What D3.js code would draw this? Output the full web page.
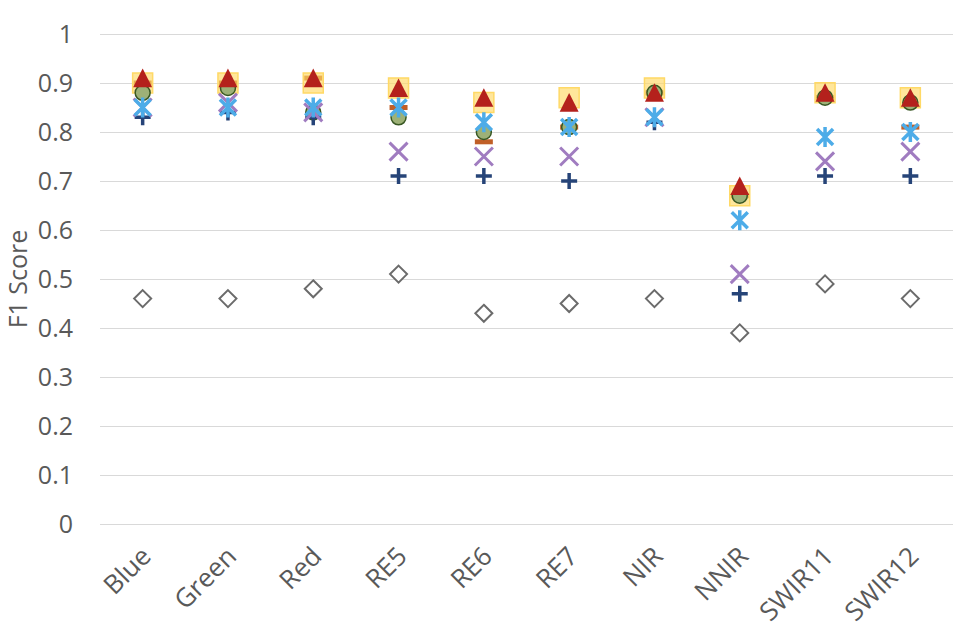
<!DOCTYPE html>
<html lang="en">

<head>
  <title>F1 Score by band</title>
  <script src="https://d3js.org/d3.v7.min.js"></script>
  <style>
    body {
      margin: 0;
      padding: 0;
      background: #fff;
      font-family: "Open Sans", Arial, sans-serif;
      overflow: hidden;
    }

    .grid line {
      stroke: #d9d9d9;
      stroke-width: 1;
    }

    .label {
      fill: #595959;
    }
  </style>
</head>

<body>
  <svg id="chart"></svg>

  <script>
    // Bands on the x axis
    const categories = ["Blue", "Green", "Red", "RE5", "RE6", "RE7", "NIR", "NNIR", "SWIR11", "SWIR12"];
    const yTicks = [0, 0.1, 0.2, 0.3, 0.4, 0.5, 0.6, 0.7, 0.8, 0.9, 1];

    // F1 scores per series
    const diamondSeries = [0.46, 0.46, 0.48, 0.51, 0.43, 0.45, 0.46, 0.39, 0.49, 0.46];
    const dashSeries = [0.90, 0.90, 0.91, 0.85, 0.78, 0.81, 0.88, 0.67, 0.87, 0.81];
    const squareSeries = [0.90, 0.90, 0.90, 0.89, 0.86, 0.87, 0.89, 0.67, 0.88, 0.87];
    const circleSeries = [0.88, 0.89, 0.84, 0.83, 0.80, 0.81, 0.88, 0.67, 0.87, 0.86];
    const triangleSeries = [0.91, 0.91, 0.91, 0.89, 0.87, 0.86, 0.88, 0.69, 0.88, 0.87];
    const plusSeries = [0.83, 0.84, 0.83, 0.71, 0.71, 0.70, 0.82, 0.47, 0.71, 0.71];
    const xSeries = [0.85, 0.86, 0.84, 0.76, 0.75, 0.75, 0.83, 0.51, 0.74, 0.76];
    const asteriskSeries = [0.85, 0.85, 0.85, 0.85, 0.82, 0.81, 0.83, 0.62, 0.79, 0.80];

    const width = 976;
    const height = 628;
    const margin = { top: 34, right: 23, bottom: 104, left: 100 };

    const svg = d3.select("#chart")
      .attr("width", width)
      .attr("height", height);

    const x = d3.scaleBand()
      .domain(categories)
      .range([margin.left, width - margin.right]);

    const y = d3.scaleLinear()
      .domain([0, 1])
      .range([height - margin.bottom, margin.top]);

    // Custom marker shapes (size = half width in px)
    const shapes = {
      square: { draw(c, s) { c.rect(-s, -s, 2 * s, 2 * s); } },
      triangle: { draw(c, s) { c.moveTo(0, -s); c.lineTo(s, s * 0.95); c.lineTo(-s, s * 0.95); c.closePath(); } },
      circle: { draw(c, s) { c.moveTo(s, 0); c.arc(0, 0, s, 0, 2 * Math.PI); } },
      diamond: { draw(c, s) { c.moveTo(0, -s); c.lineTo(s, 0); c.lineTo(0, s); c.lineTo(-s, 0); c.closePath(); } },
      dash: { draw(c, s) { c.rect(-s, -2.5, 2 * s, 5); } },
      plus: { draw(c, s) { c.moveTo(-s, 0); c.lineTo(s, 0); c.moveTo(0, -s); c.lineTo(0, s); } },
      cross: { draw(c, s) { c.moveTo(-s, -s); c.lineTo(s, s); c.moveTo(s, -s); c.lineTo(-s, s); } },
      asterisk: {
        draw(c, s) {
          const d = s * 0.8;
          c.moveTo(-d, -d); c.lineTo(d, d); c.moveTo(d, -d); c.lineTo(-d, d);
          c.moveTo(0, -s); c.lineTo(0, s);
        }
      }
    };

    // Draw order matters: later series sit on top
    const series = [
      { values: diamondSeries, shape: "diamond", size: 8.5, fill: "#fff", stroke: "#6b6b6b", sw: 2 },
      { values: dashSeries, shape: "dash", size: 9, fill: "#c05f27", stroke: "none", sw: 0 },
      { values: squareSeries, shape: "square", size: 10, fill: "#ffd966", opacity: 0.65, stroke: "#ffd966", sw: 1.5 },
      { values: circleSeries, shape: "circle", size: 7.5, fill: "#9db177", stroke: "#385723", sw: 1.5 },
      { values: triangleSeries, shape: "triangle", size: 9.5, fill: "#b4211c", stroke: "none", sw: 0 },
      { values: plusSeries, shape: "plus", size: 8, fill: "none", stroke: "#264478", sw: 3.5 },
      { values: xSeries, shape: "cross", size: 9, fill: "none", stroke: "#a07cc0", sw: 3 },
      { values: asteriskSeries, shape: "asterisk", size: 10, fill: "none", stroke: "#4dace8", sw: 3.5 }
    ];

    // Gridlines
    svg.append("g")
      .attr("class", "grid")
      .attr("transform", `translate(${margin.left},0)`)
      .call(d3.axisLeft(y).tickValues(yTicks).tickSize(-(width - margin.left - margin.right)).tickFormat(""))
      .call(g => g.select(".domain").remove());

    // Y axis labels
    svg.append("g")
      .attr("transform", `translate(${margin.left},0)`)
      .call(d3.axisLeft(y).tickValues(yTicks).tickSize(0).tickPadding(27).tickFormat(d3.format("~g")))
      .call(g => g.select(".domain").remove())
      .call(g => g.selectAll("text")
        .attr("class", "label")
        .attr("fill", null)
        .style("font-family", "'Open Sans', Arial, sans-serif")
        .style("font-size", "25px"));

    svg.append("text")
      .attr("class", "label")
      .attr("transform", `translate(27,${(y(0) + y(1)) / 2}) rotate(-90)`)
      .attr("text-anchor", "middle")
      .style("font-size", "25px")
      .text("F1 Score");

    // X axis labels, rotated
    svg.append("g")
      .selectAll("text")
      .data(categories)
      .enter().append("text")
      .attr("class", "label")
      .attr("text-anchor", "end")
      .attr("transform", d => `translate(${x(d) + x.bandwidth() / 2 + 10},${y(0) + 34}) rotate(-45)`)
      .style("font-size", "26px")
      .text(d => d);

    // Markers
    series.forEach(s => {
      const sym = d3.symbol().type(shapes[s.shape]).size(s.size);
      svg.append("g")
        .selectAll("path")
        .data(s.values)
        .enter().append("path")
        .attr("d", sym)
        .attr("transform", (v, i) => `translate(${x(categories[i]) + x.bandwidth() / 2},${y(v)})`)
        .attr("fill", s.fill)
        .attr("fill-opacity", s.opacity || 1)
        .attr("stroke", s.stroke)
        .attr("stroke-width", s.sw);
    });
  </script>
</body>

</html>
